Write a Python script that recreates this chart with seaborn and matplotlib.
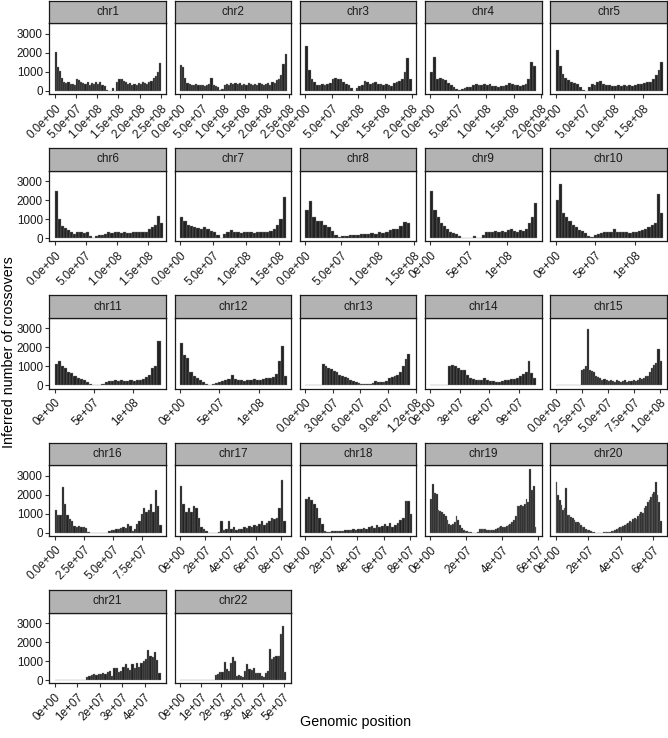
import numpy as np
import pandas as pd
import seaborn as sns
import matplotlib.pyplot as plt

# per-chromosome histogram heights (bin width in Mb below)
chroms = ['chr%d' % i for i in range(1, 23)]
chrom_len_mb = [249, 243, 199, 191, 182, 171, 160, 146, 139, 134, 136, 134,
                115, 108, 102, 91, 84, 81, 59, 65, 47, 51]
bin_mb = [5] * 8 + [4] * 4 + [3, 3] + [2] * 4 + [1] * 4
tick_step_mb = [50] * 12 + [30, 30, 25, 25, 20, 20, 20, 20, 10, 10]
y_ticks = [0, 1000, 2000, 3000]

chr1 = [2050, 1250, 1050, 700, 450, 400, 450, 350, 380, 300,
        650, 550, 450, 400, 350, 450, 300, 400, 350, 450,
        350, 450, 300, 250, 60, 0, 0, 150, 0, 450,
        650, 600, 500, 450, 350, 400, 300, 350, 300, 400,
        350, 450, 400, 350, 450, 500, 700, 800, 1000, 1450]
chr2 = [1350, 1250, 700, 400, 350, 300, 300, 350, 300, 300,
        300, 280, 300, 350, 700, 300, 250, 200, 50, 100,
        300, 350, 300, 400, 350, 400, 350, 400, 300, 350,
        300, 400, 350, 300, 350, 300, 400, 350, 300, 350,
        400, 300, 450, 400, 550, 600, 850, 1400, 1950]
chr3 = [2350, 1100, 600, 450, 300, 300, 350, 300, 350, 400,
        650, 700, 650, 600, 450, 350, 300, 150, 20, 150,
        250, 300, 500, 450, 350, 400, 450, 350, 350, 300,
        350, 300, 250, 400, 450, 500, 600, 1000, 1750, 600]
chr4 = [1000, 1800, 650, 700, 600, 550, 400, 300, 200, 100,
        30, 120, 150, 200, 200, 300, 350, 300, 300, 350,
        300, 350, 250, 250, 200, 250, 250, 300, 400, 350,
        300, 300, 250, 300, 350, 600, 1500, 1300]
chr5 = [2150, 1300, 900, 700, 550, 450, 400, 350, 200, 50,
        10, 200, 350, 300, 450, 500, 350, 300, 300, 250,
        250, 300, 250, 300, 250, 300, 250, 300, 350, 350,
        400, 450, 450, 600, 850, 1100, 1500]
chr6 = [2500, 1000, 650, 550, 450, 300, 200, 300, 350, 250,
        300, 100, 10, 100, 150, 150, 200, 300, 250, 300,
        300, 250, 300, 250, 250, 300, 300, 300, 350, 350,
        500, 600, 700, 1150, 800]
chr7 = [1100, 900, 700, 650, 600, 550, 500, 600, 500, 400,
        350, 150, 10, 200, 350, 450, 300, 300, 250, 350,
        300, 300, 250, 350, 300, 350, 350, 400, 500, 700,
        1000, 2150]
chr8 = [1500, 1950, 1100, 900, 900, 700, 600, 400, 150, 80,
        100, 120, 150, 150, 150, 200, 200, 200, 250, 200,
        300, 250, 300, 450, 500, 500, 650, 850, 800]
chr9 = [2500, 1500, 1100, 800, 650, 500, 350, 250, 200, 100,
        0, 0, 0, 0, 100, 0, 0, 150, 300, 350,
        300, 400, 350, 400, 350, 450, 500, 400, 350, 450,
        400, 500, 800, 1100, 1850]
chr10 = [2000, 2850, 1300, 1100, 900, 700, 600, 450, 400, 250,
         100, 50, 150, 200, 250, 300, 300, 350, 500, 350,
         300, 300, 300, 250, 300, 350, 400, 450, 500, 600,
         700, 800, 2300, 1300]
chr11 = [1150, 1300, 1000, 900, 700, 650, 500, 400, 350, 300,
         200, 100, 0, 0, 50, 100, 200, 250, 250, 300,
         250, 300, 250, 250, 300, 250, 300, 300, 350, 450,
         550, 900, 1050, 2350]
chr12 = [2250, 1600, 1450, 700, 500, 400, 300, 200, 100, 0,
         100, 150, 200, 250, 300, 350, 550, 350, 300, 300,
         250, 300, 300, 350, 300, 300, 350, 400, 400, 450,
         600, 1300, 2100, 500]
chr13 = [0, 0, 0, 0, 0, 0, 1150, 1000, 900, 850,
         750, 700, 550, 500, 450, 400, 300, 250, 200, 150,
         100, 100, 100, 100, 150, 250, 200, 200, 200, 250,
         400, 450, 500, 550, 700, 1000, 1400, 1650]
chr14 = [0, 0, 0, 0, 0, 0, 1050, 1100, 1000, 900,
         800, 800, 550, 400, 350, 300, 300, 300, 400, 300,
         250, 250, 200, 200, 250, 300, 300, 350, 350, 400,
         500, 600, 700, 1300, 650, 400]
chr15 = [0, 0, 0, 0, 0, 0, 0, 0, 0, 0,
         0, 0, 800, 850, 1000, 2950, 800, 750, 700, 500,
         450, 400, 300, 350, 300, 250, 300, 250, 200, 300,
         250, 200, 250, 300, 200, 250, 250, 300, 250, 300,
         400, 350, 400, 500, 500, 700, 900, 1100, 1200, 1900,
         1300]
chr16 = [1200, 950, 950, 2400, 1500, 950, 700, 600, 350, 300,
         350, 300, 300, 250, 50, 0, 0, 0, 0, 0,
         0, 0, 0, 100, 150, 150, 200, 200, 250, 300,
         250, 450, 350, 100, 200, 450, 600, 1000, 1300, 1100,
         1200, 1500, 1100, 2250, 1400, 400]
chr17 = [2450, 1500, 1100, 1300, 1100, 1400, 1300, 800, 300, 200,
         100, 0, 0, 0, 0, 50, 600, 150, 200, 600,
         200, 300, 150, 200, 200, 300, 250, 350, 300, 400,
         350, 450, 600, 400, 500, 600, 800, 750, 800, 1300,
         2800, 600]
chr18 = [1800, 1900, 1700, 1500, 1300, 800, 450, 100, 20, 30,
         80, 100, 80, 100, 120, 150, 130, 150, 180, 150,
         200, 200, 250, 200, 300, 350, 250, 400, 300, 350,
         450, 350, 500, 300, 400, 500, 650, 800, 1650, 1650,
         1000]
chr19 = [1790, 2580, 2090, 2020, 1210, 1140, 1090, 965, 860, 650,
         440, 390, 440, 560, 860, 650, 390, 260, 160, 120,
         90, 50, 20, 0, 0, 0, 50, 200, 220, 200,
         180, 170, 150, 160, 130, 150, 200, 250, 300, 350,
         330, 300, 350, 400, 450, 560, 650, 900, 1400, 1400,
         1450, 1400, 1500, 1800, 1600, 3380, 2250, 2450, 330]
chr20 = [2680, 1980, 1720, 1460, 1190, 1300, 2330, 930, 930, 840,
         800, 670, 580, 580, 490, 400, 320, 280, 210, 140,
         140, 90, 60, 40, 0, 0, 0, 0, 10, 20,
         30, 50, 50, 60, 80, 100, 130, 200, 250, 300,
         300, 350, 400, 450, 500, 600, 550, 700, 800, 750,
         900, 1000, 1100, 1050, 1300, 1400, 1600, 1700, 1900, 2050,
         2150, 2680, 2000, 1600, 600]
chr21 = [0, 0, 0, 0, 0, 0, 0, 0, 0, 0,
         0, 0, 0, 0, 160, 210, 250, 300, 260, 330,
         300, 370, 330, 420, 470, 200, 650, 610, 440, 470,
         680, 860, 650, 510, 820, 610, 910, 680, 900, 1000,
         1100, 1600, 1250, 1200, 1500, 1050, 380]
chr22 = [0, 0, 0, 0, 0, 0, 0, 0, 0, 0,
         0, 0, 0, 0, 0, 0, 0, 270, 300, 450,
         400, 950, 600, 500, 900, 1200, 1000, 220, 250, 200,
         180, 500, 850, 600, 550, 620, 350, 380, 350, 200,
         180, 380, 500, 1650, 1100, 1200, 1250, 1250, 2400, 2850,
         400]

counts = [chr1, chr2, chr3, chr4, chr5, chr6, chr7, chr8, chr9, chr10, chr11,
          chr12, chr13, chr14, chr15, chr16, chr17, chr18, chr19, chr20, chr21,
          chr22]


def sci_labels(ticks):
    # R style: same number of mantissa digits for every label of a panel
    mants = [t / 10 ** np.floor(np.log10(t)) for t in ticks if t > 0]
    digits = 0 if all(abs(m - round(m)) < 1e-9 for m in mants) else 1
    return [f'{t:.{digits}e}' for t in ticks]


sns.set_theme(style='white')
plt.rcParams['font.family'] = ['Liberation Sans', 'DejaVu Sans']

W, H = 668, 738
fig = plt.figure(figsize=(W / 100, H / 100), dpi=100)


def box(left, top, w, h):
    return [left / W, 1 - (top + h) / H, w / W, h / H]


ymax = max(max(c) for c in counts)
ylim = (-0.05 * ymax, 1.05 * ymax)

for i, name in enumerate(chroms):
    row, col = divmod(i, 5)
    left = 49.4 + 125.25 * col
    top = 0.6 + 147.3 * row

    ax = fig.add_axes(box(left, top + 22.8, 116.5, 70.7))
    edges = np.arange(len(counts[i]) + 1) * bin_mb[i] * 1e6
    df = pd.DataFrame({'pos': (edges[:-1] + edges[1:]) / 2,
                       'n': np.array(counts[i], dtype=float)})
    sns.histplot(data=df, x='pos', weights='n', bins=list(edges), ax=ax,
                 color='#222222', edgecolor='#8a8a8a', linewidth=0.25, alpha=1)

    L = chrom_len_mb[i] * 1e6
    ax.set_xlim(-0.05 * L, 1.05 * L)
    ax.set_ylim(*ylim)
    ticks = np.arange(0, 1.05 * L, tick_step_mb[i] * 1e6)
    ax.set_xticks(ticks)
    ax.set_xticklabels(sci_labels(ticks), rotation=45, ha='right', va='top',
                       rotation_mode='anchor')
    if col == 0:
        ax.set_yticks(y_ticks)
        ax.set_yticklabels([str(v) for v in y_ticks])
    else:
        ax.set_yticks([])
    ax.tick_params(axis='both', length=3.2, width=0.8, color='#333333',
                   labelsize=8.4, labelcolor='#1a1a1a', pad=1.5,
                   bottom=True, left=(col == 0))
    ax.tick_params(axis='x', pad=2.6)
    ax.set_xlabel('')
    ax.set_ylabel('')
    for s in ax.spines.values():
        s.set_color('#1a1a1a')
        s.set_linewidth(0.9)

    sax = fig.add_axes(box(left, top, 116.5, 22.8))
    sax.set_facecolor('#b3b3b3')
    sax.set_xticks([])
    sax.set_yticks([])
    for s in sax.spines.values():
        s.set_color('#1a1a1a')
        s.set_linewidth(0.9)
    sax.text(0.5, 0.5, name, ha='center', va='center', fontsize=8.5,
             color='#1a1a1a', transform=sax.transAxes)

fig.text(356 / W, 1 - 722 / H, 'Genomic position', ha='center', va='center',
         fontsize=10.3, color='black')
fig.text(9 / W, 1 - 352 / H, 'Inferred number of crossovers', rotation=90,
         ha='center', va='center', fontsize=10.3, color='black')

fig.savefig('out.png', dpi=100)
